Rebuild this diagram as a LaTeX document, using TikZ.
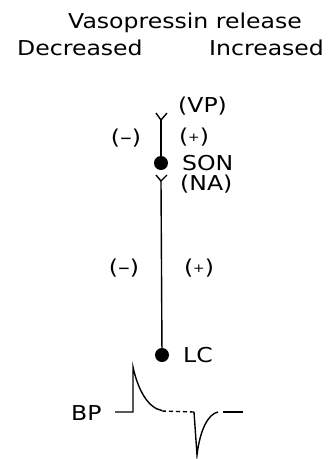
\documentclass[tikz,border=0pt]{standalone}
\usepackage{fontspec}
\setmainfont{DejaVu Sans}[FakeStretch=1.15]
\newcommand\smallplus{\raisebox{2pt}{\fontsize{12}{12}\selectfont +}}
\begin{document}
\begin{tikzpicture}[x=1pt,y=-1pt,
  lbl/.style={inner sep=0pt, font=\fontsize{20.5}{24}\selectfont},
  ln/.style={line width=1.4pt},
  dot/.style={circle, fill=black, inner sep=0pt, minimum size=14pt}]
\useasboundingbox (0,0) rectangle (332,459);
% header
\node[lbl, anchor=base west] (title) at (68,28) {Vasopressin release};
\node[lbl, anchor=base west] (dec) at (17,55) {Decreased};
\node[lbl, anchor=base west] (inc) at (209,55) {Increased};
% neurons
\node[dot] (son) at (161,163) {};
\node[dot] (lc) at (162,355) {};
\coordinate (vpj) at (161,120);
\coordinate (vpl) at (156,113);
\coordinate (vpr) at (167,113);
\coordinate (naj) at (161,181);
\coordinate (nal) at (156,175);
\coordinate (nar) at (167,175);
\draw[ln] (vpl) -- (vpj) -- (vpr);
\draw[ln] (vpj) -- (son);
\draw[ln] (nal) -- (naj) -- (nar);
\draw[ln] (naj) -- (lc);
% labels
\node[lbl, anchor=base west] (vp) at (178,112) {(VP)};
\node[lbl] (m1) at (126,138) {(–)};
\node[lbl] (p1) at (194,137) {(\smallplus)};
\node[lbl, anchor=base west] (sonl) at (182,170) {SON};
\node[lbl, anchor=west] (na) at (180,184) {(NA)};
\node[lbl] (m2) at (124,268) {(–)};
\node[lbl] (p2) at (199,268) {(\smallplus)};
\node[lbl, anchor=base west] (lcl) at (183,362.5) {LC};
\node[lbl, anchor=base west] (bp) at (71,420) {BP};
% BP trace
\draw[ln] (115,412) -- (133,412) -- (133,367) .. controls (138,390) and (148,408) .. (162,410.5);
\draw[ln, dash pattern=on 4pt off 3pt] (162,411) -- (194,412);
\draw[ln] (194,412) -- (197,455) .. controls (200,430) and (208,414) .. (218,412);
\draw[ln] (223,412) -- (243,412);
\end{tikzpicture}
\end{document}
